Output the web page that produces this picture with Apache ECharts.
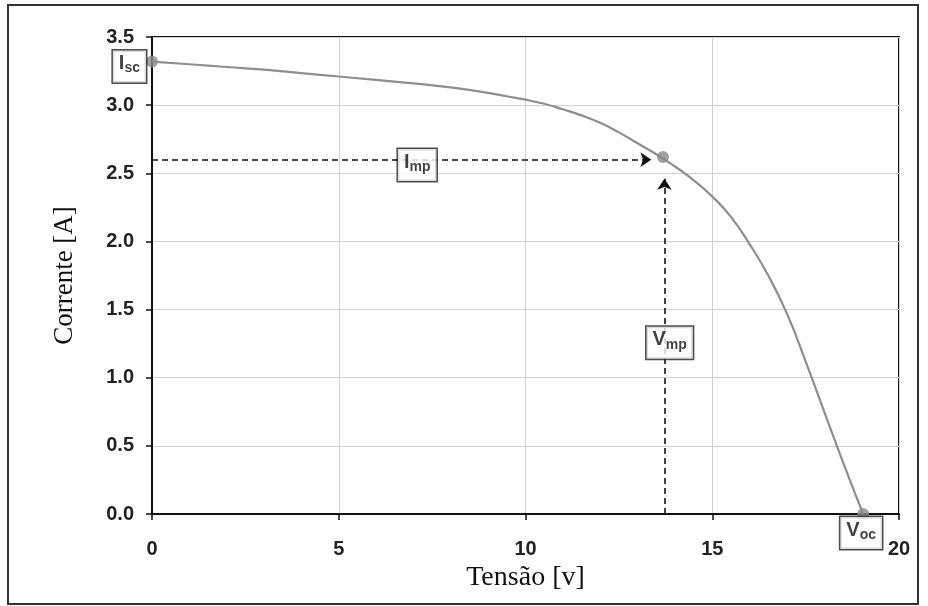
<!DOCTYPE html>
<html><head><meta charset="utf-8">
<script src="https://cdn.jsdelivr.net/npm/echarts@6/dist/echarts.min.js"></script>
<style>html,body{margin:0;padding:0;background:#fff}#c{width:928px;height:606px}</style>
</head><body><div id="c"></div>
<script>
// I-V curve (Tensão [v] vs Corrente [A])
const voltage = [0, 1, 2, 3, 4, 5, 6, 7, 8, 9, 9.5, 10, 10.5, 11, 11.5, 12, 12.5, 13, 13.5, 14, 14.5, 15, 15.5, 16, 16.5, 17, 17.5, 18, 18.5, 19.04];
const current = [3.32, 3.30, 3.28, 3.26, 3.235, 3.21, 3.185, 3.16, 3.13, 3.09, 3.065, 3.04, 3.01, 2.97, 2.925, 2.87, 2.80, 2.72, 2.64, 2.55, 2.45, 2.33, 2.18, 1.98, 1.75, 1.47, 1.12, 0.75, 0.38, 0.00];
// Characteristic points: Isc, Pmp, Voc
const markerV = [0, 13.68, 19.04];
const markerI = [3.32, 2.62, 0];
const markerLetters = ['I', 'I', 'V'];
const markerSubs = ['sc', 'mp', 'oc'];
// Annotation labels (Imp, Vmp)
const annotV = [7.1, 13.86];
const annotI = [2.56, 1.256];
const annotLetters = ['I', 'V'];
const annotSubs = ['mp', 'mp'];
// Dashed arrows
const impLevel = 2.6;
const impArrowEnd = 13.37;
const vmpLevel = 13.72;
const vmpArrowEnd = 2.46;
// Axis ticks
const xTicks = [0, 5, 10, 15, 20];
const yTicks = [0, 0.5, 1.0, 1.5, 2.0, 2.5, 3.0, 3.5];

const boxRich = {
  m: {fontFamily: 'Liberation Sans', fontWeight: 'bold', fontSize: 20, color: '#111', lineHeight: 22, verticalAlign: 'top'},
  s: {fontFamily: 'Liberation Sans', fontWeight: 'bold', fontSize: 14, color: '#111', lineHeight: 14, padding: [14, 0, 0, 0], verticalAlign: 'bottom'}
};
const boxLabel = {
  show: true,
  backgroundColor: '#fff',
  borderColor: '#222',
  borderWidth: 1.5,
  padding: [3, 6, 7, 6],
  rich: boxRich,
  formatter: p => '{m|' + p.data.value[2] + '}{s|' + p.data.value[3] + '}'
};

const markerData = markerV.map((v, i) => {
  const item = {value: [v, markerI[i], markerLetters[i], markerSubs[i]]};
  if (i === 0) item.label = Object.assign({}, boxLabel, {position: 'left', distance: 0, offset: [0, 5]});
  else if (i === 2) item.label = Object.assign({}, boxLabel, {position: 'bottom', distance: -3, offset: [-2, 0]});
  else item.label = {show: false};
  return item;
});
const annotData = annotV.map((v, i) => ({value: [v, annotI[i], annotLetters[i], annotSubs[i]]}));

const chart = echarts.init(document.getElementById('c'), null, {renderer: 'canvas'});
chart.setOption({
  animation: false,
  backgroundColor: '#fff',
  grid: {left: 152, right: 29, top: 37, bottom: 92, show: true, borderColor: '#111', borderWidth: 2, backgroundColor: 'transparent'},
  xAxis: {
    type: 'value', min: xTicks[0], max: xTicks[xTicks.length - 1], interval: 5,
    name: 'Tensão [v]', nameLocation: 'middle', nameGap: 50,
    nameTextStyle: {fontFamily: 'Liberation Serif', fontSize: 28, color: '#111'},
    axisLine: {show: true, lineStyle: {color: '#111', width: 2}},
    axisTick: {show: true, inside: false, length: 6, lineStyle: {color: '#111', width: 1.5}},
    axisLabel: {margin: 25, fontFamily: 'Liberation Sans', fontWeight: 'bold', fontSize: 20, color: '#222'},
    splitLine: {show: true, lineStyle: {color: '#d2d2d2', width: 1}}
  },
  yAxis: {
    type: 'value', min: yTicks[0], max: yTicks[yTicks.length - 1], interval: 0.5,
    name: 'Corrente [A]', nameLocation: 'middle', nameGap: 74, nameRotate: 90,
    nameTextStyle: {fontFamily: 'Liberation Serif', fontSize: 27, color: '#111'},
    axisLine: {show: true, lineStyle: {color: '#111', width: 2}},
    axisTick: {show: true, inside: false, length: 6, lineStyle: {color: '#111', width: 1.5}},
    axisLabel: {margin: 18, fontFamily: 'Liberation Sans', fontWeight: 'bold', fontSize: 20, color: '#222', formatter: v => v.toFixed(1)},
    splitLine: {show: true, lineStyle: {color: '#d2d2d2', width: 1}}
  },
  series: [
    {
      type: 'line', name: 'I-V',
      data: voltage.map((v, i) => [v, current[i]]),
      smooth: 0.5, showSymbol: false, symbol: 'none', clip: false,
      lineStyle: {color: '#8e8e8e', width: 2.2},
      z: 3,
      markLine: {
        silent: true, symbol: ['none', 'arrow'], symbolSize: 11,
        label: {show: false},
        lineStyle: {color: '#111', type: [6, 4], width: 1.6},
        data: [
          [{coord: [0, impLevel]}, {coord: [impArrowEnd, impLevel]}],
          [{coord: [vmpLevel, 0]}, {coord: [vmpLevel, vmpArrowEnd]}]
        ]
      }
    },
    {
      type: 'scatter', name: 'pontos', clip: false,
      data: markerData, symbolSize: 12,
      itemStyle: {color: '#8a8a8a'}, z: 6
    },
    {
      type: 'scatter', name: 'rotulos', clip: false,
      data: annotData, symbolSize: 1,
      itemStyle: {color: 'rgba(0,0,0,0)'},
      label: Object.assign({}, boxLabel, {position: 'inside'}),
      z: 8
    }
  ],
  graphic: [{
    type: 'rect', silent: true, z: 100,
    shape: {x: 8, y: 5, width: 910, height: 599},
    style: {fill: 'none', stroke: '#333', lineWidth: 2}
  }]
});
</script></body></html>
